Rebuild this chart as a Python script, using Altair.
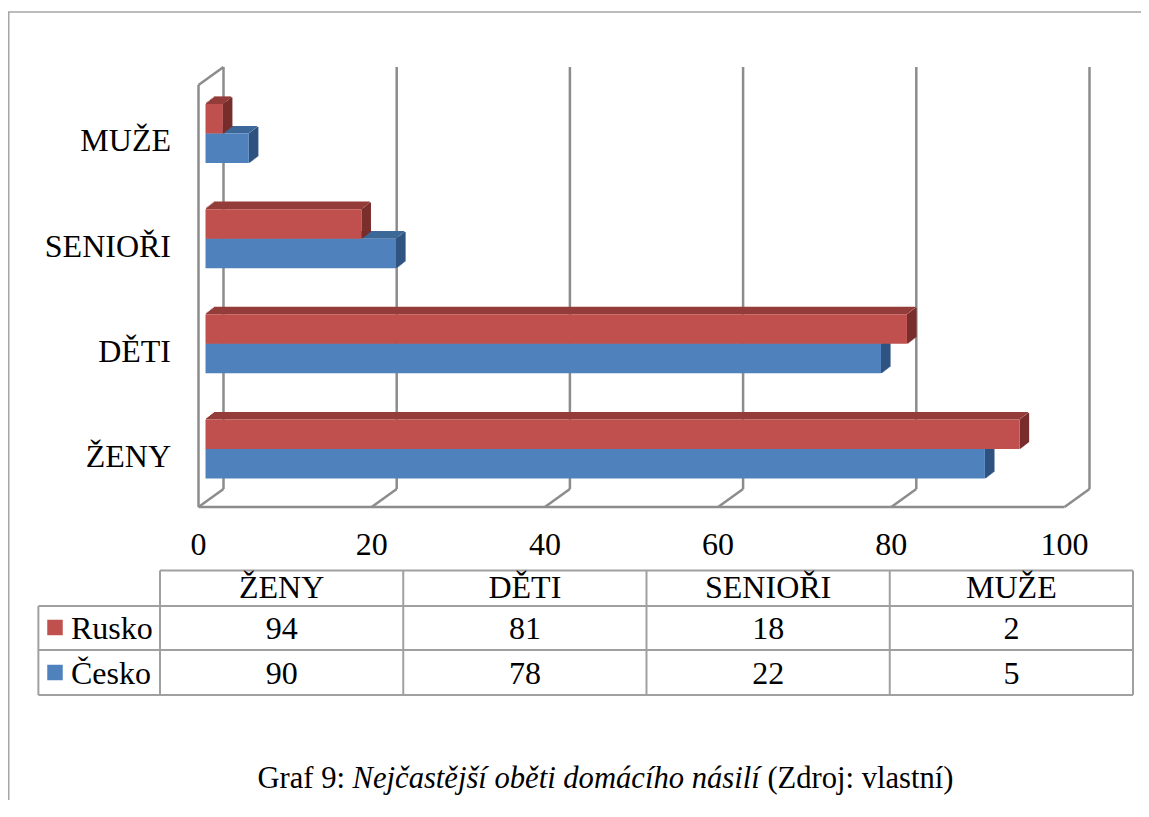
import altair as alt
import pandas as pd

# ------------------------------------------------------------------ data
categories = ["ŽENY", "DĚTI", "SENIOŘI", "MUŽE"]          # bottom -> top
series_names = ["Rusko", "Česko"]
rusko_values = [94, 81, 18, 2]
cesko_values = [90, 78, 22, 5]
x_ticks = [0, 20, 40, 60, 80, 100]
table_columns = ["ŽENY", "DĚTI", "SENIOŘI", "MUŽE"]           # left -> right
caption_plain_1 = "Graf 9:"
caption_italic = "Nejčastější oběti domácího násilí"
caption_plain_2 = "(Zdroj: vlastní)"

# ------------------------------------------------------------------ style / layout
FONT = "Liberation Serif"
FS = 32
FS_CAP = 30.6
W, H = 1133, 792
PXU = 8.66                 # px per value unit
X0 = 197.5                 # plot x of value 0 (bar plane)
CAT_PX = 105.17            # px between categories
BAR_PX = 29.5              # bar thickness px
DEPTH_BAR = (9, 7)         # bar extrusion px (dx, up)
FRONT_DX, BACK_DX = -7, 18 # wall/floor plane offsets px
FLOOR_FRONT_Y, FLOOR_BACK_Y = 499, 481
WALL_TOP_BACK_Y, WALL_TOP_FRONT_Y = 59, 77
GRID_COLOR, GRID_W = "#8c8c8c", 2.5
TABLE_COLOR, TABLE_W = "#a0a0a0", 2
front_col = {"Rusko": "#C0504D", "Česko": "#4F81BD"}
top_col = {"Rusko": "#933C3A", "Česko": "#3D6899"}
side_col = {"Rusko": "#792E2D", "Česko": "#2F5380"}

xs = alt.Scale(domain=[0, 100], range=[X0, X0 + 100 * PXU])
ys = alt.Scale(domain=[0, 3], range=[441, 441 - 3 * CAT_PX])
BH = BAR_PX / CAT_PX
DDX = DEPTH_BAR[0] / PXU
DDY = DEPTH_BAR[1] / CAT_PX
N_TOP, N_SIDE = 7, 9       # slices used to draw the slanted faces
OV_X, OV_Y = 0.6 / PXU, 0.6 / CAT_PX

values = {"Rusko": rusko_values, "Česko": cesko_values}

bars, faces = [], []
for i, cat in enumerate(categories):
    for s in series_names:
        v = values[s][i]
        lo, hi = (i, i + BH) if s == "Rusko" else (i - BH, i)
        bars.append(dict(series=s, v=v, zero=0, lo=lo, hi=hi, fill=front_col[s]))
        for k in range(N_TOP):
            f = (k + 0.5) / N_TOP
            faces.append(dict(series=s, face=0, xa=f * DDX, xb=v + f * DDX,
                              ya=hi + k * DDY / N_TOP, yb=hi + (k + 1) * DDY / N_TOP + OV_Y,
                              fill=top_col[s]))
        for k in range(N_SIDE):
            f = (k + 0.5) / N_SIDE
            faces.append(dict(series=s, face=1, xa=v + k * DDX / N_SIDE,
                              xb=v + (k + 1) * DDX / N_SIDE + OV_X,
                              ya=lo + f * DDY, yb=hi + f * DDY, fill=side_col[s]))
bars_df, faces_df = pd.DataFrame(bars), pd.DataFrame(faces)
ticks_df = pd.DataFrame({"t": x_ticks, "label": [str(t) for t in x_ticks]})
one = pd.DataFrame({"a": [0]})

NOAX = dict(axis=None)

# frame (left + top)
frame_left = alt.Chart(one).mark_rule(color="#a6a6a6", strokeWidth=1.5).encode(
    x=alt.value(0.75), y=alt.value(4), y2=alt.value(H))
frame_top = alt.Chart(one).mark_rule(color="#a6a6a6", strokeWidth=1.5).encode(
    x=alt.value(0), x2=alt.value(W), y=alt.value(4))

# back gridlines
grid = alt.Chart(ticks_df).mark_rule(color=GRID_COLOR, strokeWidth=GRID_W, xOffset=BACK_DX).encode(
    x=alt.X("t:Q", scale=xs, **NOAX), y=alt.value(WALL_TOP_BACK_Y), y2=alt.value(FLOOR_BACK_Y))
# floor diagonals
floor_diag = alt.Chart(ticks_df).mark_rule(color=GRID_COLOR, strokeWidth=GRID_W,
                                           xOffset=FRONT_DX, x2Offset=BACK_DX).encode(
    x=alt.X("t:Q", scale=xs, **NOAX), x2="t:Q",
    y=alt.value(FLOOR_FRONT_Y), y2=alt.value(FLOOR_BACK_Y))
span_df = pd.DataFrame({"lo": [min(x_ticks)], "hi": [max(x_ticks)]})
floor_front = alt.Chart(span_df).mark_rule(color=GRID_COLOR, strokeWidth=GRID_W,
                                           xOffset=FRONT_DX, x2Offset=FRONT_DX).encode(
    x=alt.X("lo:Q", scale=xs, **NOAX), x2="hi:Q", y=alt.value(FLOOR_FRONT_Y))
wall_front = alt.Chart(span_df).mark_rule(color=GRID_COLOR, strokeWidth=GRID_W, xOffset=FRONT_DX).encode(
    x=alt.X("lo:Q", scale=xs, **NOAX), y=alt.value(WALL_TOP_FRONT_Y), y2=alt.value(FLOOR_FRONT_Y))
wall_top = alt.Chart(span_df).mark_rule(color=GRID_COLOR, strokeWidth=GRID_W,
                                        xOffset=FRONT_DX, x2Offset=BACK_DX).encode(
    x=alt.X("lo:Q", scale=xs, **NOAX), x2="lo:Q",
    y=alt.value(WALL_TOP_FRONT_Y), y2=alt.value(WALL_TOP_BACK_Y))

def bar_layers(s):
    fc = alt.Chart(faces_df[faces_df.series == s]).mark_rect().encode(
        x=alt.X("xa:Q", scale=xs, **NOAX), x2="xb:Q",
        y=alt.Y("ya:Q", scale=ys, **NOAX), y2="yb:Q", color=alt.Color("fill:N", scale=None))
    f = alt.Chart(bars_df[bars_df.series == s]).mark_rect().encode(
        x=alt.X("zero:Q", scale=xs, **NOAX), x2="v:Q",
        y=alt.Y("lo:Q", scale=ys, **NOAX), y2="hi:Q", color=alt.Color("fill:N", scale=None))
    return [fc, f]

# category labels
cat_df = pd.DataFrame({"cat": categories, "idx": list(range(len(categories)))})
cat_labels = alt.Chart(cat_df).mark_text(font=FONT, fontSize=FS, align="right", baseline="alphabetic",
                                         dy=18, color="black").encode(
    x=alt.value(163), y=alt.Y("idx:Q", scale=ys, **NOAX), text="cat:N")

tick_labels = alt.Chart(ticks_df).mark_text(font=FONT, fontSize=FS, align="center", baseline="alphabetic",
                                            xOffset=FRONT_DX, color="black").encode(
    x=alt.X("t:Q", scale=xs, **NOAX), y=alt.value(547), text="label:N")

# ------------------------------------------------------------------ data table
xt = alt.Scale(domain=[0, 4], range=[152, 1125])
ROW_EDGES = [562.5, 598, 642, 687]
ROW_BASE = [590, 631, 676]
LEG_X = -0.5
vlines = pd.DataFrame({"x": [LEG_X, 0, 1, 2, 3, 4],
                       "y1": [ROW_EDGES[1]] + [ROW_EDGES[0]] * 5,
                       "y2": [ROW_EDGES[3]] * 6})
hlines = pd.DataFrame({"x1": [0, LEG_X, LEG_X, LEG_X], "x2": [4, 4, 4, 4], "y": ROW_EDGES})
tab_v = alt.Chart(vlines).mark_rule(color=TABLE_COLOR, strokeWidth=TABLE_W).encode(
    x=alt.X("x:Q", scale=xt, **NOAX), y=alt.Y("y1:Q", scale=None), y2="y2:Q")
tab_h = alt.Chart(hlines).mark_rule(color=TABLE_COLOR, strokeWidth=TABLE_W).encode(
    x=alt.X("x1:Q", scale=xt, **NOAX), x2="x2:Q", y=alt.Y("y:Q", scale=None))

cells = []
for j, c in enumerate(table_columns):
    k = categories.index(c)
    cells.append(dict(cx=j + 0.5, by=ROW_BASE[0], txt=c))
    cells.append(dict(cx=j + 0.5, by=ROW_BASE[1], txt=str(rusko_values[k])))
    cells.append(dict(cx=j + 0.5, by=ROW_BASE[2], txt=str(cesko_values[k])))
cells_df = pd.DataFrame(cells)
tab_text = alt.Chart(cells_df).mark_text(font=FONT, fontSize=FS, align="center", baseline="alphabetic",
                                         color="black").encode(
    x=alt.X("cx:Q", scale=xt, **NOAX), y=alt.Y("by:Q", scale=None), text="txt:N")

leg_df = pd.DataFrame({"series": series_names, "by": ROW_BASE[1:],
                       "sq": [b - 11.5 for b in ROW_BASE[1:]],
                       "fill": [front_col[s] for s in series_names]})
leg_sq = alt.Chart(leg_df).mark_square(size=240, opacity=1).encode(
    x=alt.value(47), y=alt.Y("sq:Q", scale=None), color=alt.Color("fill:N", scale=None))
leg_txt = alt.Chart(leg_df).mark_text(font=FONT, fontSize=FS, align="left", baseline="alphabetic",
                                      color="black").encode(
    x=alt.value(63), y=alt.Y("by:Q", scale=None), text="series:N")

# ------------------------------------------------------------------ caption
EM_P1, EM_SP, EM_IT, EM_P2 = 2.86, 0.25, 13.306, 6.083
total = (EM_P1 + EM_SP + EM_IT + EM_SP + EM_P2) * FS_CAP
cx0 = 597.5 - total / 2
cap_y = 780
cap_df = pd.DataFrame({
    "txt": [caption_plain_1, caption_italic, caption_plain_2],
    "x": [cx0, cx0 + (EM_P1 + EM_SP) * FS_CAP, cx0 + (EM_P1 + 2 * EM_SP + EM_IT) * FS_CAP],
    "style": ["normal", "italic", "normal"]})
cap_layers = []
for _, r in cap_df.iterrows():
    cap_layers.append(alt.Chart(pd.DataFrame([r])).mark_text(
        font=FONT, fontSize=FS_CAP, align="left", baseline="alphabetic", color="black",
        fontStyle=r["style"]).encode(x=alt.value(float(r["x"])), y=alt.value(cap_y), text="txt:N"))

layers = [frame_left, frame_top, grid, floor_diag, floor_front, wall_front, wall_top]
layers += bar_layers("Česko") + bar_layers("Rusko")
layers += [cat_labels, tick_labels, tab_v, tab_h, tab_text, leg_sq, leg_txt] + cap_layers

chart = alt.layer(*layers).resolve_scale(x="independent", y="independent").properties(
    width=W, height=H, autosize=alt.AutoSizeParams(type="none"), padding=0, background="white"
).configure_view(stroke=None)

chart.save("out.html", embed_options={"renderer": "svg", "actions": False})
